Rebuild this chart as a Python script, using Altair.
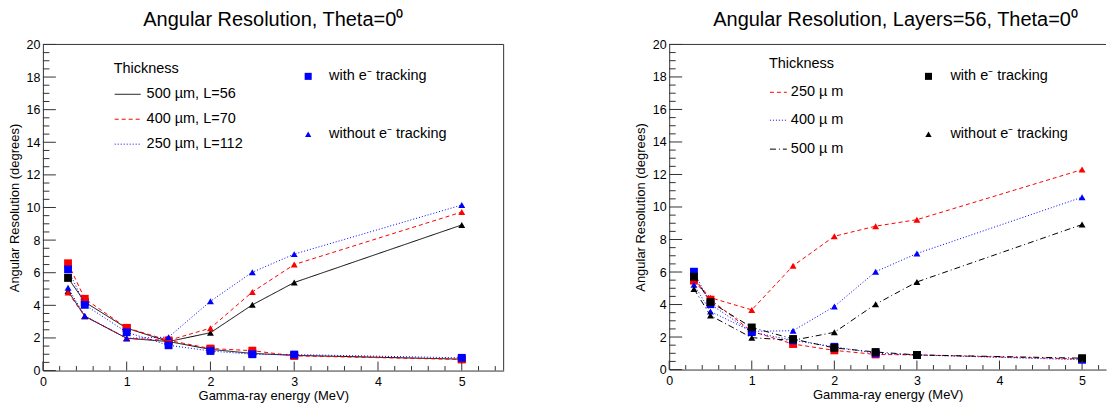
import altair as alt
import pandas as pd

FONT = "Liberation Sans"
FRAME = "#333333"

energy = [0.3, 0.5, 1.0, 1.5, 2.0, 2.5, 3.0, 5.0]

# ---- Left panel: Theta = 0 ----
left_title = "Angular Resolution, Theta=0\u2070"
left_names = ["500 \u00b5m, L=56", "400 \u00b5m, L=70", "250 \u00b5m, L=112"]
left_colors = ["#000000", "#ff0000", "#0000ff"]
left_with = [
    [5.68, 4.20, 2.60, 1.78, 1.30, 1.05, 0.93, 0.70],
    [6.58, 4.40, 2.62, 1.85, 1.35, 1.22, 0.90, 0.68],
    [6.20, 4.03, 2.35, 1.55, 1.20, 1.00, 0.98, 0.78],
]
left_without = [
    [4.88, 3.33, 1.98, 1.78, 2.32, 4.03, 5.40, 8.93],
    [4.78, 3.33, 1.98, 1.85, 2.60, 4.82, 6.50, 9.72],
    [5.08, 3.35, 1.98, 2.05, 4.25, 6.03, 7.14, 10.15],
]

# ---- Right panel: Layers = 56, Theta = 0 ----
right_title = "Angular Resolution, Layers=56, Theta=0\u2070"
right_names = ["250 \u00b5 m", "400 \u00b5 m", "500 \u00b5 m"]
right_colors = ["#ff0000", "#0000ff", "#000000"]
right_with = [
    [5.47, 4.30, 2.35, 1.57, 1.18, 0.93, 0.90, 0.65],
    [6.02, 4.02, 2.30, 1.80, 1.40, 1.00, 0.90, 0.60],
    [5.71, 4.15, 2.59, 1.88, 1.33, 1.08, 0.90, 0.70],
]
right_without = [
    [5.53, 4.42, 3.67, 6.38, 8.20, 8.82, 9.22, 12.30],
    [5.22, 3.57, 2.35, 2.39, 3.88, 6.02, 7.14, 10.60],
    [4.96, 3.32, 1.96, 1.80, 2.29, 4.02, 5.39, 8.92],
]

legend_title = "Thickness"
marker_labels = ["with e\u207b tracking", "without e\u207b tracking"]

x_title = "Gamma-ray energy (MeV)"
y_title = "Angular Resolution (degrees)"
x_major = [0, 1, 2, 3, 4, 5]
y_major = [0, 2, 4, 6, 8, 10, 12, 14, 16, 18, 20]


def minor_ticks(step, stop, majors):
    out = []
    k = 1
    while k * step <= stop + 1e-9:
        v = round(k * step, 3)
        if all(abs(v - m) > 1e-6 for m in majors):
            out.append(v)
        k += 1
    return out


def one(label):
    return pd.DataFrame({"t": [label]})


def panel(title, names, colors, dashes, with_vals, without_vals, W, H, xmax,
          leg, marker_color, title_dx, right_edge):
    xs = alt.Scale(domain=[0, xmax], nice=False, zero=False)
    ys = alt.Scale(domain=[0, 20], nice=False, zero=False)
    x_axis = alt.Axis(values=x_major, title=x_title, labelFlush=False, grid=False,
                      ticks=False, tickSize=0, domain=True, labelPadding=5,
                      titlePadding=2, labelFontSize=12.5, titleFontSize=13)
    y_axis = alt.Axis(values=y_major, title=y_title, labelFlush=False, grid=False,
                      ticks=False, tickSize=0, domain=True, labelPadding=3,
                      titlePadding=5, labelFontSize=12.5, titleFontSize=13)

    def X():
        return alt.X("x:Q", scale=xs, axis=x_axis)

    def Y():
        return alt.Y("y:Q", scale=ys, axis=y_axis)

    layers = []
    for name, col, dash, wv, wov in zip(names, colors, dashes, with_vals, without_vals):
        df_w = pd.DataFrame({"x": energy, "y": wv})
        df_wo = pd.DataFrame({"x": energy, "y": wov})
        for df in (df_w, df_wo):
            layers.append(alt.Chart(df).mark_line(color=col, strokeWidth=1,
                                                  strokeDash=dash).encode(x=X(), y=Y()))
        layers.append(alt.Chart(df_wo).mark_point(shape="triangle-up", filled=True,
                                                  size=48, color=col, opacity=1).encode(x=X(), y=Y()))
        layers.append(alt.Chart(df_w).mark_point(shape="square", filled=True,
                                                 size=62, color=col, opacity=1).encode(x=X(), y=Y()))

    # inward tick marks (ROOT style)
    xmin_ticks = minor_ticks(0.2, xmax, x_major)
    ymin_ticks = minor_ticks(0.5, 20, y_major)
    layers.append(alt.Chart(pd.DataFrame({"x": x_major})).mark_rule(color=FRAME, strokeWidth=1).encode(
        x=X(), y=alt.value(H), y2=alt.value(H - 9)))
    layers.append(alt.Chart(pd.DataFrame({"x": xmin_ticks})).mark_rule(color=FRAME, strokeWidth=1).encode(
        x=X(), y=alt.value(H), y2=alt.value(H - 4.5)))
    layers.append(alt.Chart(pd.DataFrame({"y": y_major})).mark_rule(color=FRAME, strokeWidth=1).encode(
        y=Y(), x=alt.value(0), x2=alt.value(13)))
    layers.append(alt.Chart(pd.DataFrame({"y": ymin_ticks})).mark_rule(color=FRAME, strokeWidth=1).encode(
        y=Y(), x=alt.value(0), x2=alt.value(6.5)))

    # frame top (and right)
    layers.append(alt.Chart(one("top")).mark_rule(color=FRAME, strokeWidth=1).encode(
        x=alt.value(0), x2=alt.value(W), y=alt.value(0)))
    if right_edge:
        layers.append(alt.Chart(one("right")).mark_rule(color=FRAME, strokeWidth=1).encode(
            x=alt.value(W), y=alt.value(0), y2=alt.value(H)))

    # legend: thickness
    layers.append(alt.Chart(one(legend_title)).mark_text(
        align="left", baseline="middle", fontSize=14.5, font=FONT, color="black").encode(
        text="t:N", x=alt.value(leg["tx"]), y=alt.value(leg["ty"])))
    for i, (name, col, dash) in enumerate(zip(names, colors, dashes)):
        yy = leg["rows"][i]
        layers.append(alt.Chart(one(name)).mark_rule(color=col, strokeWidth=1, strokeDash=dash).encode(
            x=alt.value(leg["lx1"]), x2=alt.value(leg["lx2"]), y=alt.value(yy)))
        layers.append(alt.Chart(one(name)).mark_text(
            align="left", baseline="middle", fontSize=14.5, font=FONT, color="black").encode(
            text="t:N", x=alt.value(leg["lt"]), y=alt.value(yy)))
    # legend: markers
    for lab, shape, size, yy in zip(marker_labels, ["square", "triangle-up"], [50, 40], leg["mrows"]):
        layers.append(alt.Chart(one(lab)).mark_point(shape=shape, filled=True, size=size,
                                                    color=marker_color, opacity=1).encode(
            x=alt.value(leg["mx"]), y=alt.value(yy)))
        layers.append(alt.Chart(one(lab)).mark_text(
            align="left", baseline="middle", fontSize=14.5, font=FONT, color="black").encode(
            text="t:N", x=alt.value(leg["mt"]), y=alt.value(yy)))

    return alt.layer(*layers).properties(
        width=W, height=H,
        title=alt.TitleParams(text=title, fontSize=20, font=FONT, fontWeight="normal",
                              anchor="middle", baseline="alphabetic", offset=-8,
                              dx=title_dx, color="black"))


solid = [1, 0]
dashed = [4, 3]
dotted = [1, 2]
dashdot = [6, 3, 1, 3]

left_leg = dict(tx=71, ty=25, lx1=72, lx2=98, lt=104, rows=[50, 75, 100],
                mx=266, mt=287, mrows=[32, 90])
right_leg = dict(tx=100, ty=20, lx1=101, lx2=118, lt=122, rows=[48, 76, 105],
                 mx=260, mt=282, mrows=[32, 90])

left = panel(left_title, left_names, left_colors, [solid, dashed, dotted],
             left_with, left_without, 462, 327, 5.5, left_leg, "#0000ff", 0, True)
right = panel(right_title, right_names, right_colors, [dashed, dotted, dashdot],
              right_with, right_without, 438, 326, 438 / 82.8, right_leg, "#000000", 8, False)

chart = alt.hconcat(left, right, spacing=130).resolve_scale(
    x="independent", y="independent").properties(
    padding={"left": 0, "top": 2, "right": 0, "bottom": 0}
).configure(font=FONT).configure_view(stroke=None).configure_axis(
    labelFont=FONT, titleFont=FONT, labelColor="black", titleColor="black",
    titleFontWeight="normal", domainColor=FRAME, domainWidth=1
)

chart.save("out.html", embed_options={"renderer": "svg", "actions": False})
